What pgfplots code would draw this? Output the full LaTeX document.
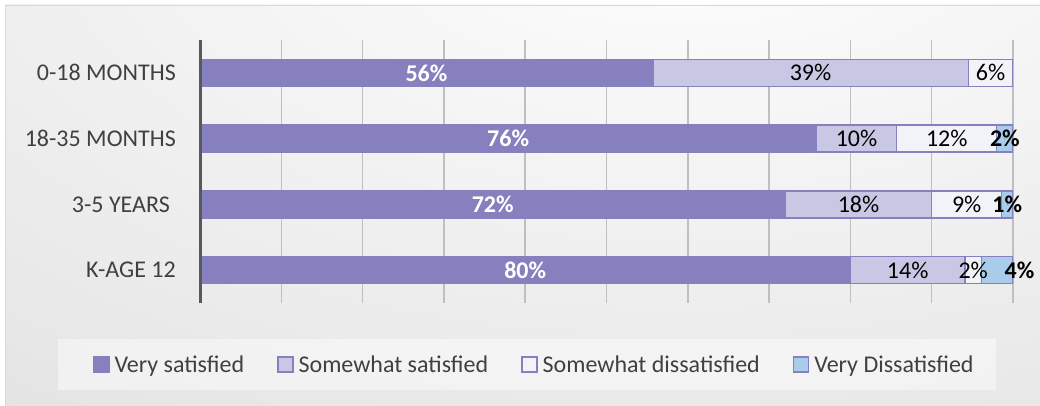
\documentclass[border=0pt]{standalone}
\usepackage{pgfplots}
\pgfplotsset{compat=1.18}
\usepackage{fontspec}
\setmainfont{Carlito}
\definecolor{vs}{HTML}{8780BE}
\definecolor{ss}{HTML}{C8C8E4}
\definecolor{sd}{HTML}{F2F2F9}
\definecolor{vd}{HTML}{A9CCEB}
\definecolor{txt}{HTML}{404040}
\definecolor{gridc}{HTML}{BFBFBF}
\definecolor{axc}{HTML}{595959}
\definecolor{bg}{HTML}{CFCFCF}
\definecolor{framec}{HTML}{D9D9D9}
\newcommand\cfont{\fontsize{24bp}{28bp}\selectfont}

\begin{document}
\begin{tikzpicture}
\useasboundingbox (0,0) rectangle (1040bp,406bp);
\fill[white] (0,0) rectangle (1040bp,406bp);
\begin{scope}
\clip (5bp,0) rectangle (1040bp,401bp);
\shade[inner color=white, outer color=bg] (680bp,506bp) ellipse [x radius=2100bp, y radius=1120bp];
\end{scope}
\draw[framec, line width=1bp] (5.5bp,-2bp) -- (5.5bp,400.5bp) -- (1042bp,400.5bp);
\fill[white, opacity=0.45] (58bp,16bp) rectangle (996bp,67bp);

\begin{axis}[
  at={(200bp,103bp)}, anchor=south west,
  scale only axis, width=813bp, height=263bp,
  xmin=0, xmax=100, ymin=-0.5, ymax=3.5, y dir=reverse,
  xbar stacked, bar width=27bp,
  axis line style={draw=none},
  major tick length=0pt, tick style={draw=none},
  xtick={0,10,...,100},
  xticklabel style={text opacity=0},
  xmajorgrids, grid style={gridc, line width=1.5bp},
  ytick={0,1,2,3},
  yticklabels={0-18 MONTHS, 18-35 MONTHS, {3-5 YEARS\kern6bp}, K-AGE 12},
  yticklabel style={font=\cfont, text=txt, anchor=east, inner sep=0pt, xshift=-24bp},
  legend columns=4,
  legend cell align=left,
  legend image code/.code={\draw[#1] (0bp,-7.5bp) rectangle (15bp,7.5bp);},
  legend style={at={(-0.1316,-0.2338)}, anchor=west, draw=none, fill=none,
    inner sep=0pt, outer sep=0pt, font=\cfont, text=txt,
    nodes={inner sep=0pt},
    /tikz/every odd column/.style={column sep=5bp},
    /tikz/every even column/.style={column sep=33bp}},
]
\addplot[fill=vs, draw=vs, line width=1.5bp] coordinates {(55.7,0) (75.8,1) (72.0,2) (80.0,3)};
\addplot[fill=ss, draw=vs, line width=1.5bp] coordinates {(38.8,0) (9.9,1) (18.0,2) (14.1,3)};
\addplot[fill=sd, draw=vs, line width=1.5bp] coordinates {(5.5,0) (12.3,1) (8.6,2) (2.0,3)};
\addplot[fill=vd, draw=vs, line width=1.5bp] coordinates {(0,0) (2.0,1) (1.4,2) (3.9,3)};
\legend{Very satisfied, Somewhat satisfied, Somewhat dissatisfied, Very Dissatisfied}
\end{axis}

\begin{axis}[
  at={(200bp,103bp)}, anchor=south west,
  scale only axis, width=813bp, height=263bp,
  xmin=0, xmax=100, ymin=-0.5, ymax=3.5, y dir=reverse,
  axis x line=none, axis y line=left,
  y axis line style={axc, line width=3bp, -},
  xtick=\empty, ytick=\empty,
  clip=false,
  lab/.style={only marks, mark=*, mark size=0.01pt,
    mark options={draw=none, fill=none},
    nodes near coords, point meta=explicit symbolic},
]
\addplot[lab, every node near coord/.append style={anchor=center, font=\cfont\bfseries, text=white, inner sep=0pt}]
  coordinates {(27.85,0) [56\%] (37.9,1) [76\%] (36.0,2) [72\%] (40.0,3) [80\%]};
\addplot[lab, every node near coord/.append style={anchor=center, font=\cfont, text=black, inner sep=0pt}]
  coordinates {(75.1,0) [39\%] (80.75,1) [10\%] (81.0,2) [18\%] (87.05,3) [14\%]};
\addplot[lab, every node near coord/.append style={anchor=center, font=\cfont, text=black, inner sep=0pt}]
  coordinates {(97.25,0) [6\%] (91.85,1) [12\%] (94.3,2) [9\%] (95.1,3) [2\%]};
\addplot[lab, every node near coord/.append style={anchor=center, font=\cfont\bfseries, text=black, inner sep=0pt}]
  coordinates {(99.0,1) [2\%] (99.3,2) [1\%] (100.8,3) [4\%]};
\end{axis}
\end{tikzpicture}
\end{document}
